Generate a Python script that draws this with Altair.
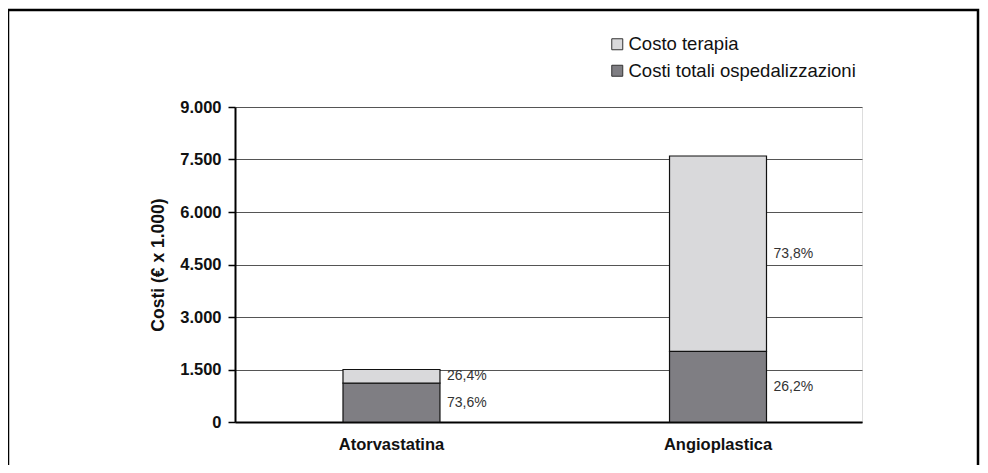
import altair as alt
import pandas as pd

categories = ["Atorvastatina", "Angioplastica"]
hosp_costs = [1110, 2020]          # Costi totali ospedalizzazioni (€ x 1.000)
therapy_costs = [390, 5580]        # Costo terapia (€ x 1.000)
hosp_pct = ["73,6%", "26,2%"]
therapy_pct = ["26,4%", "73,8%"]
y_ticks = [0, 1500, 3000, 4500, 6000, 7500, 9000]

S_THER = "Costo terapia"
S_HOSP = "Costi totali ospedalizzazioni"

rows = []
for i, c in enumerate(categories):
    rows.append({"cat": c, "serie": S_HOSP, "value": hosp_costs[i], "pct": hosp_pct[i], "ord": 0})
    rows.append({"cat": c, "serie": S_THER, "value": therapy_costs[i], "pct": therapy_pct[i], "ord": 1})
df = pd.DataFrame(rows)

FONT = "Liberation Sans"

x_enc = alt.X(
    "cat:N",
    sort=categories,
    title=None,
    scale=alt.Scale(paddingInner=0.703, paddingOuter=0.3116, align=0.5307),
    axis=alt.Axis(
        ticks=False, labelAngle=0, labelFontSize=16.5, labelFontWeight="bold",
        labelColor="#111", labelFont=FONT, labelPadding=14,
        domainColor="#000", domainWidth=2, grid=False,
    ),
)

base = alt.Chart(df).transform_stack(
    stack="value", as_=["y0", "y1"], groupby=["cat"], sort=[alt.SortField("ord", "ascending")]
).transform_calculate(mid="(datum.y0 + datum.y1) / 2")

y_scale = alt.Scale(domain=[0, 9000], nice=False)

bars = base.mark_bar(stroke="#111", strokeWidth=1.2).encode(
    x=x_enc,
    y=alt.Y(
        "y1:Q",
        scale=y_scale,
        title="Costi (€ x 1.000)",
        axis=alt.Axis(
            values=y_ticks,
            labelExpr="replace(format(datum.value, ','), ',', '.')",
            labelFontSize=16.5, labelFontWeight="bold", labelColor="#111", labelFont=FONT,
            labelPadding=7, tickSize=7, tickColor="#000", tickWidth=1.5,
            domainColor="#000", domainWidth=2,
            grid=True, gridColor="#555", gridWidth=1.2,
            titleFontSize=17.5, titleFontWeight="bold", titleColor="#111", titleFont=FONT,
            titlePadding=12,
        ),
    ),
    y2="y0:Q",
    color=alt.Color(
        "serie:N",
        scale=alt.Scale(domain=[S_THER, S_HOSP], range=["#d9d9db", "#7f7e83"]),
        legend=alt.Legend(
            title=None, orient="none", legendX=373, legendY=-72,
            symbolType="square", symbolSize=121, symbolStrokeColor="#333",
            symbolStrokeWidth=1, labelFontSize=18.5, labelFont=FONT, labelColor="#111",
            labelOffset=2, rowPadding=7.5, padding=0, labelLimit=0,
        ),
    ),
)

labels = base.mark_text(
    align="left", baseline="middle", dx=55.5, fontSize=14, font=FONT, color="#333"
).encode(
    x=alt.X("cat:N", sort=categories),
    y=alt.Y("mid:Q", scale=y_scale),
    text="pct:N",
)

frame = alt.Chart(df).mark_rect(
    filled=False, stroke="#000", strokeWidth=2.5
).encode(
    x=alt.value(-227), x2=alt.value(743), y=alt.value(-97), y2=alt.value(420)
).transform_filter("datum.ord == 0 && datum.cat == 'Atorvastatina'")

chart = alt.layer(bars, labels, frame).properties(
    width=627, height=315,
    autosize=alt.AutoSizeParams(type="none"),
    padding={"left": 227, "top": 99, "right": 118, "bottom": 43},
).configure_view(stroke=None).configure(background="white")

chart.save("out.html", embed_options={"renderer": "svg", "actions": False})
